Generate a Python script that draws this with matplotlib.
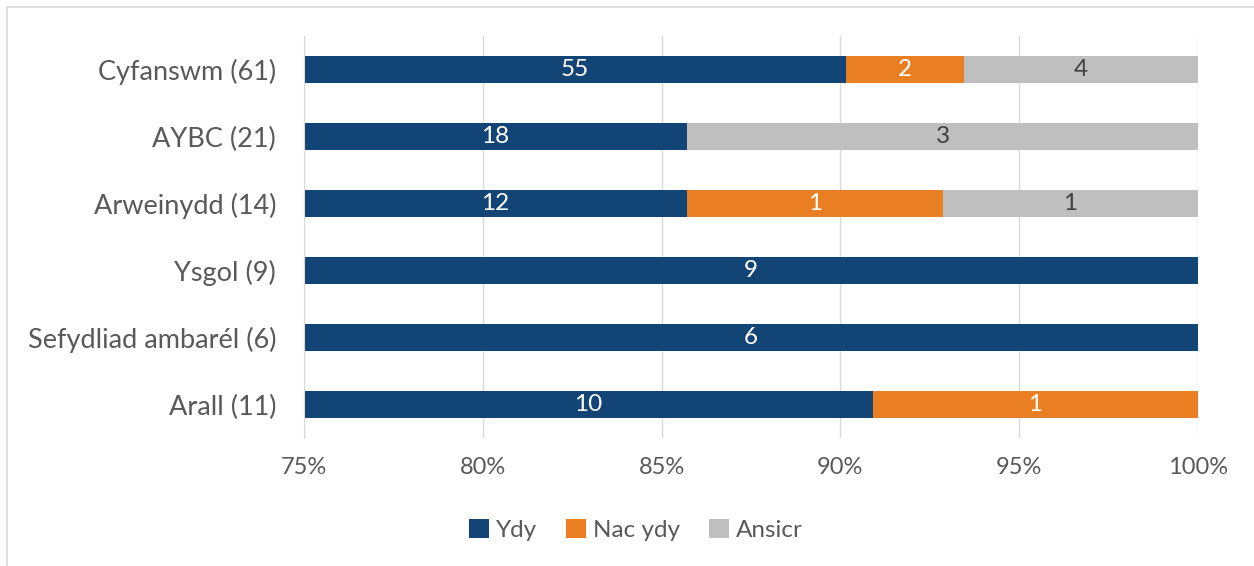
import matplotlib
matplotlib.use("Agg")
import matplotlib.pyplot as plt
from matplotlib.patches import Rectangle
import numpy as np

categories = ["Cyfanswm (61)", "AYBC (21)", "Arweinydd (14)", "Ysgol (9)",
              "Sefydliad ambarél (6)", "Arall (11)"]
ydy = [55, 18, 12, 9, 6, 10]
nac_ydy = [2, 0, 1, 0, 0, 1]
ansicr = [4, 3, 1, 0, 0, 0]
series_names = ["Ydy", "Nac ydy", "Ansicr"]
tick_vals = [0.75, 0.80, 0.85, 0.90, 0.95, 1.00]
tick_labels = ["75%", "80%", "85%", "90%", "95%", "100%"]

colors = ["#134476", "#E97E22", "#BFBFBF"]
text_colors = ["white", "white", "#404040"]

plt.rcParams['font.family'] = ['Lato', 'DejaVu Sans']
FS = 17

fig = plt.figure(figsize=(12.54, 5.66), dpi=100)
ax = fig.add_axes([304/1254, 1-438/566, (1198-304)/1254, (438-36)/566])

counts = np.array([ydy, nac_ydy, ansicr], dtype=float)
totals = counts.sum(axis=0)
fracs = counts / totals
y = np.arange(len(categories))[::-1]

left = np.zeros(len(categories))
for i in range(3):
    ax.barh(y, fracs[i], left=left, height=0.4, color=colors[i],
            label=series_names[i], zorder=3)
    for j in range(len(categories)):
        if counts[i, j] > 0:
            lo = max(left[j], 0.75)
            hi = left[j] + fracs[i, j]
            ax.text((lo + hi) / 2, y[j], f"{int(counts[i, j])}", ha="center", va="center",
                    color=text_colors[i], fontsize=FS + 0.5, zorder=4)
    left = left + fracs[i]

ax.set_xlim(0.75, 1.0)
ax.set_ylim(-0.5, len(categories) - 0.5)
ax.set_xticks(tick_vals)
ax.set_xticklabels(tick_labels)
ax.set_yticks(y)
ax.set_yticklabels(categories)
ax.tick_params(axis='both', length=0, colors="#595959")
ax.tick_params(axis='x', pad=14, labelsize=FS)
ax.tick_params(axis='y', pad=20, labelsize=19.5)
ax.grid(axis='x', color="#D9D9D9", linewidth=1, zorder=0)
for s in ["top", "right", "bottom"]:
    ax.spines[s].set_visible(False)
ax.spines["left"].set_color("#D9D9D9")
ax.spines["left"].set_zorder(5)

leg = fig.legend(loc="center", bbox_to_anchor=(636/1254, 1-530/566), ncol=3,
                 frameon=False, fontsize=FS + 0.5, handlelength=0.8, handleheight=0.8,
                 handletextpad=0.3, columnspacing=1.2)
for t in leg.get_texts():
    t.set_color("#595959")

fig.patches.append(Rectangle((7/1254, -0.05), 1.1, 1.05 - 7/566,
                             transform=fig.transFigure, fill=False,
                             edgecolor="#D9D9D9", linewidth=1.2, zorder=0))

fig.savefig("out.png", dpi=100)
